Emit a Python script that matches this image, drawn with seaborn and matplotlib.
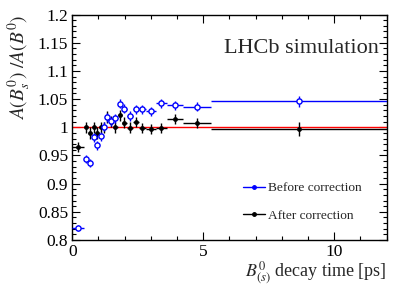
import matplotlib
matplotlib.use("Agg")
import matplotlib.pyplot as plt
from matplotlib.lines import Line2D
from matplotlib.ticker import MultipleLocator
import seaborn as sns
import numpy as np
import pandas as pd

# bin edges of the decay time [ps]
edges = [0, 0.45, 0.62, 0.76, 0.89, 1.02, 1.15, 1.28, 1.41, 1.57, 1.73,
         1.90, 2.09, 2.31, 2.55, 2.80, 3.18, 3.63, 4.22, 5.28, 12]

before = [0.821, 0.943, 0.937, 0.982, 0.968, 0.984, 1.001, 1.018, 1.011, 1.016,
          1.042, 1.033, 1.020, 1.032, 1.032, 1.028, 1.043, 1.039, 1.036, 1.046]
before_err = [0.005, 0.007, 0.007, 0.008, 0.008, 0.008, 0.008, 0.008, 0.008, 0.008,
              0.008, 0.008, 0.008, 0.008, 0.008, 0.008, 0.008, 0.008, 0.008, 0.010]

after = [0.965, 1.000, 0.990, 1.000, 0.990, 1.000, 1.000, 1.018, 1.010, 1.000,
         1.021, 1.008, 0.999, 1.009, 0.999, 0.997, 0.999, 1.015, 1.007, 0.997]
after_err = [0.009, 0.010, 0.010, 0.010, 0.010, 0.010, 0.010, 0.010, 0.010, 0.010,
             0.010, 0.010, 0.010, 0.009, 0.009, 0.009, 0.009, 0.009, 0.009, 0.012]

e = np.array(edges)
centers = (e[1:] + e[:-1]) / 2
half = (e[1:] - e[:-1]) / 2

df = pd.DataFrame({"t": centers, "before": before, "after": after})

sns.set_theme(style="ticks")
plt.rcParams["font.family"] = ["Liberation Serif", "DejaVu Serif"]
plt.rcParams["mathtext.fontset"] = "stix"

fig = plt.figure(figsize=(3.99, 2.86), dpi=100)
ax = fig.add_axes([0.181, 0.161, 0.788, 0.788])

ax.axhline(1.0, color="red", lw=1.0, zorder=1)

ax.errorbar(centers, after, xerr=half, yerr=after_err, fmt="none",
            ecolor="black", elinewidth=1.0, capsize=0, zorder=2)
ax.errorbar(centers, before, xerr=half, yerr=before_err, fmt="none",
            ecolor="blue", elinewidth=1.0, capsize=0, zorder=3)
sns.scatterplot(data=df, x="t", y="after", ax=ax, color="black", s=12,
                edgecolor="black", linewidth=0, zorder=4, legend=False)
sns.scatterplot(data=df, x="t", y="before", ax=ax, facecolor="white", s=14,
                edgecolor="blue", linewidth=1.0, zorder=5, legend=False)

ax.set_xlim(0, 12)
ax.set_ylim(0.8, 1.2)
ax.xaxis.set_major_locator(MultipleLocator(5))
ax.xaxis.set_minor_locator(MultipleLocator(1))
ax.yaxis.set_minor_locator(MultipleLocator(0.01))
ax.set_yticks(np.arange(0.8, 1.201, 0.05))
ax.set_yticklabels(["0.8", "0.85", "0.9", "0.95", "1", "1.05", "1.1", "1.15", "1.2"])

ax.tick_params(which="both", direction="in", top=True, right=True,
               labelsize=12.5, pad=3, color="black", labelcolor="black")
ax.tick_params(which="major", length=6, width=0.8)
ax.tick_params(which="minor", length=3, width=0.8)
for s in ax.spines.values():
    s.set_color("black")
    s.set_linewidth(1.0)

ax.set_xlabel(r"$B^0_{(s)}$ decay time [ps]", fontsize=13, loc="right")
ax.xaxis.set_label_coords(1.0, -0.085)
ax.set_ylabel(r"$A(B_s^0)\ /A(B^0)$", fontsize=14, loc="top")
ax.yaxis.set_label_coords(-0.125, 1.0)

ax.text(0.975, 0.85, "LHCb simulation", transform=ax.transAxes,
        ha="right", va="center", fontsize=16)

handles = [Line2D([], [], color="blue", marker="o", ms=2.5, lw=1.0),
           Line2D([], [], color="black", marker="o", ms=2.5, lw=1.0)]
ax.legend(handles, ["Before correction", "After correction"],
          loc="upper left", bbox_to_anchor=(0.542, 0.257), frameon=False,
          fontsize=9.6, borderpad=0, borderaxespad=0, handlelength=1.7,
          handletextpad=0.2, labelspacing=1.15)

fig.savefig("out.png", dpi=100)
